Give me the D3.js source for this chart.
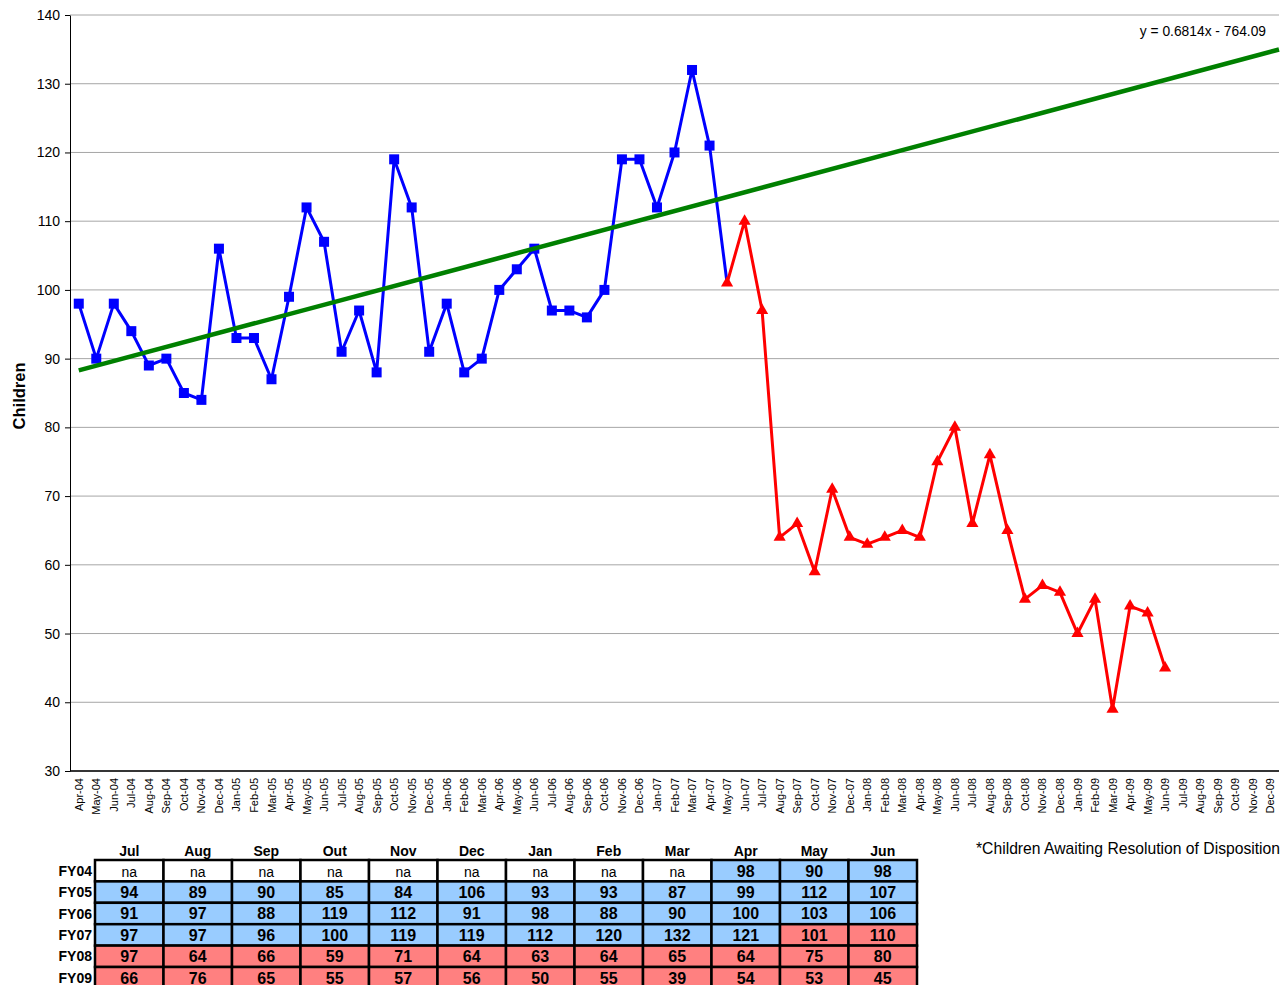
<!DOCTYPE html>
<html><head><meta charset="utf-8">
<script src="https://cdn.jsdelivr.net/npm/d3@7"></script>
<style>
body{margin:0;background:#fff;}
svg text{font-family:Arial,"Liberation Sans",sans-serif;}
</style></head>
<body><svg id="c" width="1283" height="985"></svg>
<script>
const months = ["Apr-04","May-04","Jun-04","Jul-04","Aug-04","Sep-04","Oct-04","Nov-04","Dec-04",
"Jan-05","Feb-05","Mar-05","Apr-05","May-05","Jun-05","Jul-05","Aug-05","Sep-05","Oct-05","Nov-05","Dec-05",
"Jan-06","Feb-06","Mar-06","Apr-06","May-06","Jun-06","Jul-06","Aug-06","Sep-06","Oct-06","Nov-06","Dec-06",
"Jan-07","Feb-07","Mar-07","Apr-07","May-07","Jun-07","Jul-07","Aug-07","Sep-07","Oct-07","Nov-07","Dec-07",
"Jan-08","Feb-08","Mar-08","Apr-08","May-08","Jun-08","Jul-08","Aug-08","Sep-08","Oct-08","Nov-08","Dec-08",
"Jan-09","Feb-09","Mar-09","Apr-09","May-09","Jun-09","Jul-09","Aug-09","Sep-09","Oct-09","Nov-09","Dec-09"];
// Apr-04 .. Jun-09
const children = [98,90,98,94,89,90,85,84,106,93,93,87,99,112,107,91,97,88,119,112,91,98,88,90,100,103,106,
97,97,96,100,119,119,112,120,132,121,101,110,97,64,66,59,71,64,63,64,65,64,75,80,66,76,65,55,57,56,50,55,39,54,53,45];
const firstRedMonth = "May-07";
const yTicks = [30,40,50,60,70,80,90,100,110,120,130,140];
const equationText = "y = 0.6814x - 764.09";
const footnote = "*Children Awaiting Resolution of Disposition";
const tableCols = ["Jul","Aug","Sep","Out","Nov","Dec","Jan","Feb","Mar","Apr","May","Jun"];
const fiscalYears = ["FY04","FY05","FY06","FY07","FY08","FY09"];
const fyStartOffset = -9; // FY04 starts Jul-03, 9 months before Apr-04

const svg = d3.select("#c");
const L=70,R=1279,T=15,B=771;
const redIdx = months.indexOf(firstRedMonth);
const xi = d3.scaleLinear().domain([-0.5, months.length-0.5]).range([L,R]);
const y = d3.scaleLinear().domain([30,140]).range([B,T]);

// grid
svg.append("g").selectAll("line").data(yTicks).join("line")
 .attr("x1",L).attr("x2",R).attr("y1",d=>y(d)).attr("y2",d=>y(d))
 .attr("stroke","#a6a6a6").attr("stroke-width",1);

// y axis
const ya = svg.append("g").attr("transform",`translate(${L},0)`)
 .call(d3.axisLeft(y).tickValues(yTicks).tickSize(5).tickSizeOuter(0));
ya.select(".domain").attr("stroke","#000");
ya.selectAll(".tick line").attr("stroke","#000");
ya.selectAll(".tick text").attr("font-size",14).attr("fill","#000").attr("x",-10)
 .style("font-family","Arial, 'Liberation Sans', sans-serif");

// x axis
svg.append("line").attr("x1",L).attr("x2",R).attr("y1",B).attr("y2",B).attr("stroke","#000").attr("stroke-width",1.5);
svg.append("g").selectAll("text").data(months).join("text")
 .attr("transform",(d,i)=>`translate(${xi(i)+4},${B+7}) rotate(-90)`)
 .attr("text-anchor","end").attr("font-size",11).attr("fill","#000").text(d=>d);

svg.append("text").attr("transform",`translate(25,${(T+B)/2+3}) rotate(-90)`)
 .attr("text-anchor","middle").attr("font-size",16.5).attr("font-weight","bold").text("Children");

// series
const blueData = children.slice(0, redIdx+1).map((v,i)=>({i,v}));
const redData = children.slice(redIdx).map((v,k)=>({i:k+redIdx,v}));
const line = d3.line().x(d=>xi(d.i)).y(d=>y(d.v));
svg.append("path").datum(blueData).attr("d",line).attr("fill","none").attr("stroke","#0000ff").attr("stroke-width",3).attr("stroke-linejoin","round");
svg.append("path").datum(redData).attr("d",line).attr("fill","none").attr("stroke","#ff0000").attr("stroke-width",3).attr("stroke-linejoin","round");
svg.append("g").selectAll("rect").data(blueData.slice(0,redIdx)).join("rect")
 .attr("x",d=>xi(d.i)-5).attr("y",d=>y(d.v)-5).attr("width",10).attr("height",10).attr("fill","#0000ff");
const tri = d3.symbol().type(d3.symbolTriangle).size(64);
svg.append("g").selectAll("path").data(redData).join("path")
 .attr("d",tri).attr("transform",d=>`translate(${xi(d.i)},${y(d.v)})`).attr("fill","#ff0000");

// trendline: least squares on blue-marked months
const pts = blueData.slice(0,redIdx);
const mx = d3.mean(pts,d=>d.i), my = d3.mean(pts,d=>d.v);
const slope = d3.sum(pts,d=>(d.i-mx)*(d.v-my))/d3.sum(pts,d=>(d.i-mx)**2);
const icpt = my - slope*mx;
const tEnd = months.length-0.5;
svg.append("line").attr("x1",xi(0)).attr("y1",y(icpt)).attr("x2",xi(tEnd)).attr("y2",y(icpt+slope*tEnd))
 .attr("stroke","#008000").attr("stroke-width",4.5);
svg.append("text").attr("x",1266).attr("y",36).attr("text-anchor","end").attr("font-size",13.8).text(equationText);

// table
const tx0=95, tx1=917, cw=(tx1-tx0)/tableCols.length, ty0=860, rh=21.4;
const tg = svg.append("g");
tg.selectAll("text.h").data(tableCols).join("text").attr("class","h")
 .attr("x",(d,j)=>tx0+cw*(j+0.5)).attr("y",856).attr("text-anchor","middle")
 .attr("font-size",14).attr("font-weight","bold").text(d=>d);
fiscalYears.forEach((fy,r)=>{
  tg.append("text").attr("x",92).attr("y",ty0+rh*r+rh/2+5).attr("text-anchor","end")
   .attr("font-size",14).attr("font-weight","bold").text(fy);
  tableCols.forEach((c,j)=>{
    const mi = fyStartOffset + r*12 + j;
    const v = (mi>=0 && mi<children.length) ? children[mi] : null;
    const fill = v==null ? "#ffffff" : (mi<redIdx ? "#99ccff" : "#ff8080");
    tg.append("rect").attr("x",tx0+cw*j).attr("y",ty0+rh*r).attr("width",cw).attr("height",rh)
      .attr("fill",fill).attr("stroke","#000").attr("stroke-width",2.5);
    tg.append("text").attr("x",tx0+cw*(j+0.5)).attr("y",ty0+rh*r+rh/2+5.8).attr("text-anchor","middle")
      .attr("font-size",v==null?14:16).attr("font-weight",v==null?"normal":"bold")
      .text(v==null?"na":v);
  });
});
svg.append("text").attr("x",976).attr("y",854).attr("font-size",15.7).text(footnote);
</script></body></html>
